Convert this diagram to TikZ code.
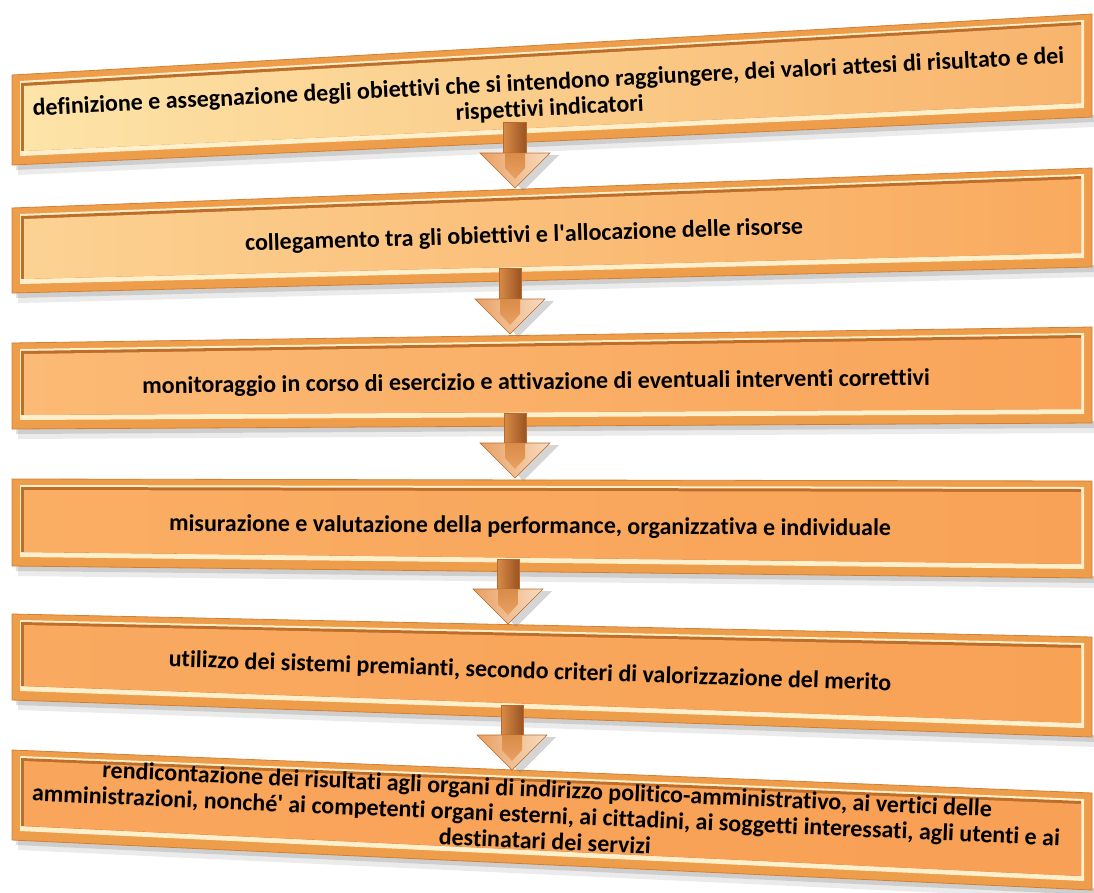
\documentclass[tikz,border=0pt]{standalone}
\usepackage{fontspec}
\defaultfontfeatures{}
\setmainfont{Carlito}[Ligatures=NoCommon]
\usetikzlibrary{calc}

\definecolor{framec}{HTML}{EE9D4A}
\definecolor{frameedge}{HTML}{CF8036}
\definecolor{bevellight}{HTML}{FFEFCB}
\definecolor{beveldark}{HTML}{BE6E2B}
\definecolor{panelAl}{HTML}{FDE4A8}
\definecolor{panelAr}{HTML}{F8B46C}
\definecolor{panelBl}{HTML}{FCD293}
\definecolor{panelBr}{HTML}{F9AA5E}
\definecolor{panelCl}{HTML}{FBBA75}
\definecolor{panelCr}{HTML}{F9A459}
\definecolor{panelDl}{HTML}{FAAE64}
\definecolor{panelDr}{HTML}{F8A257}
\definecolor{panelEl}{HTML}{F9AA60}
\definecolor{panelEr}{HTML}{F8A256}
\definecolor{panelFl}{HTML}{F9A65C}
\definecolor{panelFr}{HTML}{F8A055}
\definecolor{arrowmid}{HTML}{D98C48}
\definecolor{arrowlight}{HTML}{F6C99A}
\definecolor{arrowdeep}{HTML}{9A5322}
\definecolor{arrowwing}{HTML}{E9A063}
\definecolor{arrowshine}{HTML}{F8DCC0}
\definecolor{arrowedge}{HTML}{B8692C}

\tikzset{
  bartext/.style={font=\bfseries\fontsize{24}{26}\selectfont, align=center, text=black, inner sep=0pt},
  arrowline/.style={draw=arrowedge, line width=0.6pt}
}

% copper arrow from shaft top #1 down to tip #2
\newcommand{\flowarrow}[2]{%
  \fill[black!55, opacity=0.30] ($(#2)+(-24,-33)$) -- ($(#2)+(44,-33)$) -- ($(#2)+(8,3)$) -- cycle;
  \shade[left color=arrowmid, middle color=arrowlight, right color=arrowdeep, arrowline]
    ($(#1)+(-11,0)$) rectangle ($(#2)+(11,-33)$);
  \shade[left color=arrowwing, right color=arrowshine, arrowline]
    ($(#2)+(-35,-35)$) -- ($(#2)+(35,-35)$) -- (#2) -- cycle;
  \shade[top color=arrowmid, bottom color=arrowwing]
    ($(#2)+(-10,-35)$) -- ($(#2)+(10,-35)$) -- ($(#2)+(10,-20)$) -- ($(#2)+(0,-9)$) -- ($(#2)+(-10,-20)$) -- cycle;
}

\begin{document}
\begin{tikzpicture}[x=1pt, y=-1pt]
    \useasboundingbox (0,0) rectangle (1094,892);

    % Bars: left top / left bottom / right top / right bottom / panel colours
    \foreach \yl/\ylb/\yr/\yrb/\cl/\cr in {75/165/14/117/panelAl/panelAr,
                                          208/293/168/267/panelBl/panelBr,
                                          343/429/327/423/panelCl/panelCr,
                                          479/566/481/578/panelDl/panelDr,
                                          614/700/637/737/panelEl/panelEr,
                                          750/840/793/890/panelFl/panelFr} {
        % soft shadow below the bar
        \fill[black, opacity=0.08] (18,\ylb-2) -- (1094,\yrb-2) -- (1094,\yrb+10) -- (18,\ylb+10) -- cycle;
        \fill[black, opacity=0.12] (16,\ylb-2) -- (1094,\yrb-2) -- (1094,\yrb+5) -- (16,\ylb+5) -- cycle;
        % outer frame
        \fill[framec, draw=frameedge, line width=0.8pt] (12,\yl) -- (1092,\yr) -- (1092,\yrb) -- (12,\ylb) -- cycle;
        % bevel lines
        \fill[bevellight] (20,\yl+6) -- (1084,\yr+6) -- (1084,\yrb-9) -- (20,\ylb-9) -- cycle;
        \fill[beveldark] (21,\yl+8) -- (1081,\yr+8) -- (1081,\yrb-14) -- (21,\ylb-14) -- cycle;
        % inner panel
        \shade[left color=\cl, right color=\cr] (24,\yl+11) -- (1081,\yr+11) -- (1081,\yrb-14) -- (24,\ylb-14) -- cycle;
    }

    % Arrow end points (shaft top, tip)
    \coordinate (a1s) at (514,122);  \coordinate (a1t) at (515,188);
    \coordinate (a2s) at (510,268);  \coordinate (a2t) at (510,334);
    \coordinate (a3s) at (515,413);  \coordinate (a3t) at (515,478);
    \coordinate (a4s) at (508,559);  \coordinate (a4t) at (508,624);
    \coordinate (a5s) at (512,705);  \coordinate (a5t) at (512,770);

    \foreach \n in {1,...,5} {
        \flowarrow{a\n s}{a\n t}
    }

    % Texts
    \node[bartext, rotate=2.9] (b1) at (549,96)
        {definizione e assegnazione degli obiettivi che si intendono raggiungere, dei valori attesi di risultato e dei\\ rispettivi indicatori};
    \node[bartext, rotate=1.75] (b2) at (524,236)
        {collegamento tra gli obiettivi e l\textquotesingle allocazione delle risorse};
    \node[bartext, rotate=0.6] (b3) at (536,383)
        {monitoraggio in corso di esercizio e attivazione di eventuali interventi correttivi};
    \node[bartext, rotate=-0.4] (b4) at (530,527)
        {misurazione e valutazione della performance, organizzativa e individuale};
    \node[bartext, rotate=-1.9] (b5) at (530,672)
        {utilizzo dei sistemi premianti, secondo criteri di valorizzazione del merito};
    \node[bartext, rotate=-2.5] (b6) at (546,815)
        {rendicontazione dei risultati agli organi di indirizzo politico-amministrativo, ai vertici delle\\
         amministrazioni, nonché\textquotesingle{} ai competenti organi esterni, ai cittadini, ai soggetti interessati, agli utenti e ai\\
         destinatari dei servizi};

\end{tikzpicture}
\end{document}
